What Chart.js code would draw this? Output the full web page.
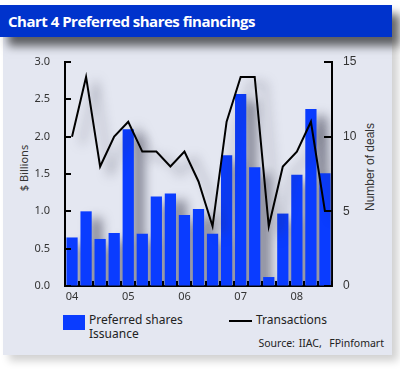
<!DOCTYPE html>
<html>
<head>
<meta charset="utf-8">
<script src="https://cdn.jsdelivr.net/npm/chart.js@4/dist/chart.umd.min.js"></script>
<style>
  body { margin: 0; width: 400px; height: 372px; background: #fff; position: relative; overflow: hidden; font-family: "Noto Sans", sans-serif; }
  #panel { position: absolute; left: 3px; top: 37px; width: 389px; height: 318px; background: #e4e7f1; box-shadow: 6px 6px 8px rgba(0,0,0,0.18); }
  #titleBar { position: absolute; left: 0; top: 5px; width: 392px; height: 32px; background: #0033cc; box-shadow: 8px 9px 9px rgba(0,0,0,0.6); }
  #titleBar span { position: absolute; left: 8px; top: 6px; color: #fff; font: bold 15px "Open Sans", sans-serif; letter-spacing: -0.5px; }
  #chartWrap { position: absolute; left: 0; top: 0; width: 400px; height: 372px; }
  .axisTitle { position: absolute; font-size: 11px; color: #333; white-space: nowrap; transform: translate(-50%, -50%) rotate(-90deg); }
  .legendText { position: absolute; font-size: 12px; line-height: 14px; color: #222; }
  #source { position: absolute; right: 16px; top: 336px; font-size: 10.5px; color: #222; word-spacing: 1px; }
</style>
</head>
<body>
<div id="panel"></div>
<div id="titleBar"><span>Chart 4 Preferred shares financings</span></div>
<div class="axisTitle" style="left:23px; top:168px;">$ Billions</div>
<div class="axisTitle" style="left:370px; top:167px; font-family:'Liberation Sans',sans-serif; font-size:12px;">Number of deals</div>

<div id="legendBox" style="position:absolute; left:63px; top:315px; width:22px; height:15px;"></div>
<div class="legendText" style="left:89px; top:313px;">Preferred shares<br>Issuance</div>
<div id="legendLine" style="position:absolute; left:229px; top:320px; width:23px; height:2px;"></div>
<div class="legendText" style="left:256px; top:313px;">Transactions</div>
<div id="source">Source: IIAC,&nbsp; FPinfomart</div>

<div id="chartWrap"><canvas id="chart" width="400" height="372"></canvas></div>

<script>
// quarterly data, 2004 Q1 - 2008 Q3
const quarters = [
  "04Q1", "04Q2", "04Q3", "04Q4",
  "05Q1", "05Q2", "05Q3", "05Q4",
  "06Q1", "06Q2", "06Q3", "06Q4",
  "07Q1", "07Q2", "07Q3", "07Q4",
  "08Q1", "08Q2", "08Q3"
];
const yearLabels = ["04", "05", "06", "07", "08"];
const issuance = [0.65, 1.0, 0.63, 0.71, 2.1, 0.7, 1.2, 1.24, 0.95, 1.03, 0.7, 1.75, 2.57, 1.59, 0.12, 0.97, 1.49, 2.37, 1.51];
const deals = [10, 14, 8, 10, 11, 9, 9, 8, 9, 7, 4, 11, 14, 14, 4, 8, 9, 11, 5];
const billionTicks = [0, 0.5, 1.0, 1.5, 2.0, 2.5, 3.0];
const dealTicks = [0, 5, 10, 15];

const barColor = "#0a3cff";
const lineColor = "#000000";

document.getElementById("legendBox").style.background = barColor;
document.getElementById("legendLine").style.background = lineColor;

// soft drop shadow behind bars and line, like the original artwork
const shadowPlugin = {
  id: "shadow",
  beforeDatasetDraw(chart) {
    const ctx = chart.ctx;
    ctx.save();
    ctx.shadowColor = "rgba(40, 40, 60, 0.55)";
    ctx.shadowBlur = 11;
    ctx.shadowOffsetX = 10;
    ctx.shadowOffsetY = 7;
  },
  afterDatasetDraw(chart) {
    chart.ctx.restore();
  }
};

// tick marks drawn inside the plot area
const innerTicks = {
  id: "innerTicks",
  afterDraw(chart) {
    const ctx = chart.ctx;
    const area = chart.chartArea;
    const yL = chart.scales.y;
    const yR = chart.scales.y1;
    const x = chart.scales.x;
    ctx.save();
    ctx.strokeStyle = "#000";
    ctx.lineWidth = 2;
    ctx.beginPath();
    billionTicks.forEach((v) => {
      const py = Math.round(yL.getPixelForValue(v));
      ctx.moveTo(area.left, py);
      ctx.lineTo(area.left + 6, py);
    });
    dealTicks.forEach((v) => {
      const py = Math.round(yR.getPixelForValue(v));
      ctx.moveTo(area.right, py);
      ctx.lineTo(area.right - 8, py);
    });
    for (let i = 0; i <= quarters.length; i++) {
      const px = Math.round(x.getPixelForValue(i - 0.5));
      ctx.moveTo(px, area.bottom);
      ctx.lineTo(px, area.bottom - 5);
    }
    ctx.stroke();
    ctx.restore();
  }
};

new Chart(document.getElementById("chart").getContext("2d"), {
  data: {
    labels: quarters,
    datasets: [
      {
        type: "line",
        label: "Transactions",
        data: deals,
        yAxisID: "y1",
        borderColor: lineColor,
        borderWidth: 2,
        pointRadius: 0,
        tension: 0,
        order: 0
      },
      {
        type: "bar",
        label: "Preferred shares Issuance",
        data: issuance,
        yAxisID: "y",
        backgroundColor: barColor,
        borderWidth: 0,
        barPercentage: 0.8,
        categoryPercentage: 1.0,
        order: 1
      }
    ]
  },
  options: {
    responsive: false,
    animation: false,
    layout: { padding: { top: 62, bottom: 66, left: 0, right: 0 } },
    plugins: {
      legend: { display: false },
      tooltip: { enabled: false }
    },
    scales: {
      x: {
        offset: true,
        grid: { display: false, drawTicks: false },
        border: { display: true, color: "#000", width: 2 },
        afterFit: (s) => { s.height = 20; },
        ticks: {
          autoSkip: false,
          maxRotation: 0,
          padding: 4,
          color: "#333",
          font: { family: "Noto Sans", size: 11 },
          callback: (v, i) => (i % 4 === 0 ? yearLabels[i / 4] : "")
        }
      },
      y: {
        position: "left",
        min: 0,
        max: 3,
        afterFit: (s) => { s.width = 65; },
        grid: { drawOnChartArea: false, drawTicks: false },
        border: { display: true, color: "#000", width: 2 },
        ticks: {
          stepSize: 0.5,
          padding: 15,
          color: "#333",
          font: { family: "Noto Sans", size: 11 },
          callback: (v) => v.toFixed(1)
        }
      },
      y1: {
        position: "right",
        min: 0,
        max: 15,
        afterFit: (s) => { s.width = 68; },
        grid: { drawOnChartArea: false, drawTicks: false },
        border: { display: true, color: "#000", width: 2 },
        ticks: {
          stepSize: 5,
          padding: 11,
          color: "#333",
          font: { family: "Liberation Sans", size: 12 }
        }
      }
    }
  },
  plugins: [shadowPlugin, innerTicks]
});
</script>
</body>
</html>
